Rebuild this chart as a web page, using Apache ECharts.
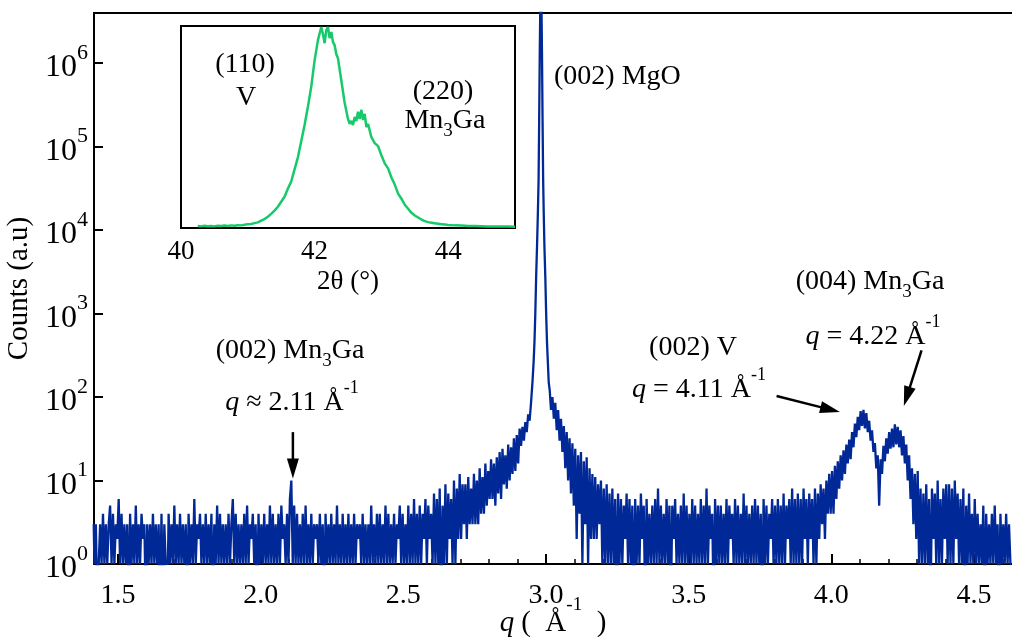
<!DOCTYPE html>
<html><head><meta charset="utf-8">
<script src="https://cdn.jsdelivr.net/npm/echarts@6/dist/echarts.min.js"></script>
<style>html,body{margin:0;padding:0;background:#fff}#c{width:1012px;height:637px}</style>
</head><body><div id="c"></div>
<script>
// ---------------- DATA ----------------
// main XRD scan: counts on a regular q grid (step 0.005 Å^-1)
const qStep = 0.005;
const qStartLeft = 1.415;
const countsLeft = [
 3,1,3,0,1,3,1,4,1,3,1,3,5,1,4,1,3,2,6,1,
 4,1,3,1,3,0,4,1,3,1,5,1,3,1,4,2,3,0,3,1,
 3,1,4,1,3,1,3,0,4,0,3,1,1,4,1,3,1,5,1,3,
 1,4,1,3,1,3,0,4,1,3,1,6,1,3,2,4,1,3,1,4,
 1,3,1,4,0,3,1,5,1,4,1,3,1,3,1,4,1,3,6,1,
 4,1,3,1,3,1,4,1,5,1,3,2,4,1,3,0,4,1,3,1,
 4,1,3,1,5,1,4,1,3,1,4,1,5,2,3,1,4,1,6,10,
 1,5,1,4,1,3,1,4,1,5,1,3,1,4,1,3,2,3,1,4,
 1,3,0,4,1,3,1,4,1,3,1,5,1,3,1,4,1,3,1,4,
 1,3,1,4,1,3,2,3,1,4,1,3,1,3,1,5,1,3,1,4,
 1,4,1,3,1,5,1,4,1,3,1,4,1,3,2,5,1,4,1,3,
 1,5,1,4,1,6,1,4,1,5,1,4,2,6,1,5,2,4,1,7,
 1,6,1,8,0,5,1,9,1,7,2,6,1,10,1,8,2,12,2,9,
 3,9,2,11,3,8,3,12,3,10,3,14,4,11,4,16,5,13,6,18,
 6,16,5,19,7,22,6,24,9,20,8,27,10,25,12,32,13,35,16,42,
 26,44,30,50,38,62,52,85
];
// (002) MgO substrate peak core
const peakQ = [2.955,2.958,2.961,2.964,2.967,2.970,2.973,2.975,2.977,2.979,2.981,2.983,
               2.985,2.987,2.989,2.991,2.993,2.996,2.999,3.002,3.005,3.008,3.011];
const peakCounts = [150,260,450,1000,2800,6300,16000,40000,2e5,1.2e6,5e6,1.2e7,
                    5e6,1.2e6,2e5,40000,16000,6300,2800,1000,450,260,150];
const qStartRight = 3.015;
const countsRight = [
 120,70,100,55,85,40,70,30,55,22,45,14,38,10,32,7,28,5,24,2,
 20,4,22,1,17,3,19,1,14,2,12,2,11,2,9,3,10,1,8,1,
 9,1,7,1,8,1,6,0,7,1,6,1,5,2,7,1,6,1,5,0,
 6,1,5,1,7,2,5,0,6,1,4,1,5,1,6,1,8,1,5,1,
 4,1,6,1,5,0,5,2,6,1,4,1,5,1,7,1,5,1,4,1,
 6,1,5,1,4,1,6,1,5,1,8,1,5,2,4,0,6,1,5,1,
 5,1,4,1,6,1,5,2,4,1,6,1,5,1,4,1,7,1,5,1,
 4,1,5,1,6,1,5,1,4,0,6,1,5,1,4,2,6,1,5,1,
 6,1,5,1,7,1,5,2,6,1,8,1,6,1,7,1,6,1,8,2,
 6,1,7,2,6,1,8,1,7,2,9,3,8,2,10,4,12,4,13,4,
 15,6,17,8,20,10,23,12,27,16,31,18,38,25,48,33,58,40,68,45,
 70,42,64,38,52,30,40,22,28,14,20,5,18,12,26,17,32,21,38,24,
 42,25,47,27,44,25,40,20,34,16,27,10,20,6,14,3,12,2,13,1,
 8,1,7,1,9,1,6,0,8,2,7,1,10,1,6,1,8,2,9,1,
 9,1,8,1,10,2,7,1,6,1,8,0,5,1,7,1,4,1,6,1,
 4,1,3,1,5,0,4,1,3,1,4,1,5,1,3,0,4,1,3,1,
 4,1,3,1
];
// inset: 2θ scan (linear intensity, % of max)
const insetTheta = [40.25,40.30,40.35,40.40,40.45,40.50,40.55,40.60,40.65,40.70,40.75,40.80,40.85,40.90,40.95,
 41.00,41.05,41.10,41.15,41.20,41.25,41.30,41.35,41.40,41.45,41.50,41.55,41.60,41.65,41.70,41.75,41.80,41.85,41.90,41.95,
 42.00,42.05,42.10,42.125,42.15,42.175,42.20,42.225,42.25,42.275,42.30,42.325,42.35,42.40,42.45,42.50,42.525,42.55,42.575,
 42.60,42.625,42.65,42.675,42.70,42.725,42.75,42.775,42.80,42.85,42.90,42.95,43.00,43.05,43.10,43.15,43.20,43.25,43.30,
 43.35,43.40,43.45,43.50,43.55,43.60,43.65,43.70,43.75,43.80,43.85,43.90,43.95,44.00,44.10,44.20,44.30,44.40,44.50,
 44.60,44.70,44.80,44.90,45.00];
const insetIntensity = [1.0,0.8,1.1,0.9,1.0,0.8,1.1,1.0,1.2,1.0,1.3,1.1,1.4,1.3,1.6,
 1.8,2.0,2.4,2.8,3.6,4.4,5.6,7.0,8.6,10.5,13.0,15.5,19.5,23.0,29.0,35.0,43.0,51.0,60.0,70.0,
 83.0,93.0,99.5,96,91.5,98,99.5,94,97,92,90.5,86,84,73,62,54,51.5,53,51,
 55,53,57.5,54,58.5,53.5,56.5,50,51.5,45,42,40.5,36,32,29.5,25,21.5,17,14.5,
 11.5,9.5,7.5,6.2,5.2,4.2,3.4,2.9,2.6,2.3,2.1,1.9,1.7,1.5,1.3,1.2,1.0,1.0,0.9,
 0.8,0.8,0.7,0.7,0.6];
// ticks
const xTickValues = [1.5,2.0,2.5,3.0,3.5,4.0,4.5];
const yTickValues = [1,10,100,1000,10000,100000,1000000];
const insetTickValues = [41,42,43,44];
const insetLabelValues = [40,42,44];

// ---------------- BUILD ----------------
const FONT = '"Liberation Serif", "DejaVu Serif", serif';
const scan = [];
countsLeft.forEach((c,i)=>scan.push([+(qStartLeft+i*qStep).toFixed(3), c]));
peakQ.forEach((q,i)=>scan.push([q, peakCounts[i]]));
countsRight.forEach((c,i)=>scan.push([+(qStartRight+i*qStep).toFixed(3), c]));
const plotData = scan.map(([q,c])=>[q, c>0 ? c : 0.3]); // zero counts fall below the log axis
const insetData = insetTheta.map((t,i)=>[t, insetIntensity[i]]);
const minorTicks = [];
for (let k=15;k<=46;k++) minorTicks.push(k/10);

const chart = echarts.init(document.getElementById('c'), null, {renderer:'canvas'});
const tickRich = {
  b:{fontFamily:FONT,fontSize:32,color:'#000',padding:[10,0,0,0],verticalAlign:'bottom'},
  s:{fontFamily:FONT,fontSize:22,color:'#000',verticalAlign:'top'}
};
chart.setOption({
  animation:false,
  backgroundColor:'#fff',
  grid:[
    {left:94, top:13, right:0, bottom:73, outerBoundsMode:'none', containLabel:false},
    {left:181, top:26, width:334, height:202, show:true, backgroundColor:'#fff', borderColor:'#000', borderWidth:2, z:5,
     outerBoundsMode:'none', containLabel:false}
  ],
  xAxis:[
    {gridIndex:0, type:'value', min:1.416, max:4.633, position:'bottom',
     axisLine:{show:true,onZero:false,lineStyle:{color:'#000',width:2}},
     axisTick:{show:true,inside:true,length:10,customValues:xTickValues,lineStyle:{color:'#000',width:2}},
     axisLabel:{customValues:xTickValues,formatter:v=>v.toFixed(1),fontFamily:FONT,fontSize:28,color:'#000',margin:18},
     splitLine:{show:false},
     name:'{i|q} {b|(  Å}{s|-1}{b|  )}', nameLocation:'middle', nameGap:32, nameMoveOverlap:false,
     nameTextStyle:{fontFamily:FONT,fontSize:28,color:'#000',rich:{
       i:{fontFamily:FONT,fontSize:29,fontStyle:'italic',color:'#000',padding:[13,0,0,0],verticalAlign:'bottom'},
       b:{fontFamily:FONT,fontSize:29,color:'#000',padding:[13,0,0,0],verticalAlign:'bottom'},
       s:{fontFamily:FONT,fontSize:19,color:'#000',verticalAlign:'top'}}}},
    {gridIndex:0, type:'value', min:1.416, max:4.633, position:'bottom',
     axisLine:{show:false}, axisLabel:{show:false}, splitLine:{show:false},
     axisTick:{show:true,inside:true,length:5,customValues:minorTicks,lineStyle:{color:'#000',width:1.5}}},
    {gridIndex:0, type:'value', min:1.416, max:4.633, position:'top',
     axisLine:{show:true,onZero:false,lineStyle:{color:'#000',width:2}},
     axisTick:{show:false}, axisLabel:{show:false}, splitLine:{show:false}},
    {gridIndex:1, type:'value', min:40, max:45,
     axisLine:{show:true,onZero:false,lineStyle:{color:'#000',width:2}},
     axisTick:{show:true,inside:true,length:9,customValues:insetTickValues,lineStyle:{color:'#000',width:2}},
     axisLabel:{customValues:insetLabelValues,fontFamily:FONT,fontSize:27,color:'#000',margin:10},
     splitLine:{show:false},
     name:'2θ (°)', nameLocation:'middle', nameGap:40, nameMoveOverlap:false,
     nameTextStyle:{fontFamily:FONT,fontSize:27,color:'#000'}}
  ],
  yAxis:[
    {gridIndex:0, type:'log', logBase:10, min:1, max:Math.pow(10,6.6),
     axisLine:{show:true,onZero:false,lineStyle:{color:'#000',width:2}},
     axisTick:{show:true,inside:true,length:9,customValues:yTickValues,lineStyle:{color:'#000',width:2}},
     axisLabel:{customValues:yTickValues,margin:6,
       formatter:v=>'{b|10}{s|'+Math.round(Math.log10(v))+'}', rich:tickRich},
     splitLine:{show:false},
     name:'Counts (a.u)', nameLocation:'middle', nameGap:60, nameRotate:90, nameMoveOverlap:false,
     nameTextStyle:{fontFamily:FONT,fontSize:29,color:'#000'}},
    {gridIndex:1, type:'value', min:0, max:100,
     axisLine:{show:false}, axisTick:{show:false}, axisLabel:{show:false}, splitLine:{show:false}}
  ],
  series:[
    {type:'line', xAxisIndex:0, yAxisIndex:0, data:plotData, showSymbol:false, symbol:'none', step:'middle',
     lineStyle:{color:'#002896',width:2.3}, clip:true, silent:true, z:2},
    {type:'line', xAxisIndex:3, yAxisIndex:1, data:insetData, showSymbol:false, symbol:'none',
     lineStyle:{color:'#16c96a',width:2.5}, clip:true, silent:true, z:6}
  ]
});

// ---------------- ANNOTATIONS ----------------
const toPx = (q,c)=>chart.convertToPixel({gridIndex:0},[q,c]);
function arrow(p0,p1){
  const dx=p1[0]-p0[0], dy=p1[1]-p0[1], L=Math.hypot(dx,dy), ux=dx/L, uy=dy/L;
  const hl=20, hw=6;
  const bx=p1[0]-ux*hl, by=p1[1]-uy*hl;
  return [
    {type:'line', z:20, shape:{x1:p0[0],y1:p0[1],x2:bx+ux*2,y2:by+uy*2}, style:{stroke:'#000',lineWidth:2.5}},
    {type:'polygon', z:20, shape:{points:[[p1[0],p1[1]],[bx-uy*hw,by+ux*hw],[bx+uy*hw,by-ux*hw]]}, style:{fill:'#000'}}
  ];
}
const annRich = {
  b:{fontFamily:FONT,fontSize:28,color:'#000',padding:[10,0,0,0],verticalAlign:'bottom'},
  i:{fontFamily:FONT,fontSize:28,fontStyle:'italic',color:'#000',padding:[10,0,0,0],verticalAlign:'bottom'},
  s:{fontFamily:FONT,fontSize:18,color:'#000',verticalAlign:'top'},
  n:{fontFamily:FONT,fontSize:28,color:'#000',padding:[0,0,6,0],verticalAlign:'top'},
  d:{fontFamily:FONT,fontSize:19,color:'#000',verticalAlign:'bottom'}
};
function txt(x,y,text,align){
  return {type:'text', z:30, x:x, y:y, style:{text:text, fontFamily:FONT, fontSize:28, fill:'#000',
    align:align||'center', verticalAlign:'middle', rich:annRich}};
}
const g = [];
g.push(...arrow(toPx(2.113,38), toPx(2.113,10.6)));
g.push(...arrow(toPx(3.808,103), toPx(4.030,66)));
g.push(...arrow(toPx(4.316,361), toPx(4.254,78)));
g.push(txt(290,354,'{n|(002) Mn}{d|3}{n|Ga}'));
g.push(txt(292,398,'{i|q}{b| ≈ 2.11 Å}{s|-1}'));
g.push(txt(554,77,'(002) MgO','left'));
g.push(txt(693,348,'(002) V'));
g.push(txt(699,385,'{i|q}{b| = 4.11 Å}{s|-1}'));
g.push(txt(870,285,'{n|(004) Mn}{d|3}{n|Ga}'));
g.push(txt(873,332,'{i|q}{b| = 4.22 Å}{s|-1}'));
g.push(txt(245,65,'(110)'));
g.push(txt(246,98,'V'));
g.push(txt(443,92,'(220)'));
g.push(txt(445,124,'{n|Mn}{d|3}{n|Ga}'));
chart.setOption({graphic:g});
</script></body></html>
